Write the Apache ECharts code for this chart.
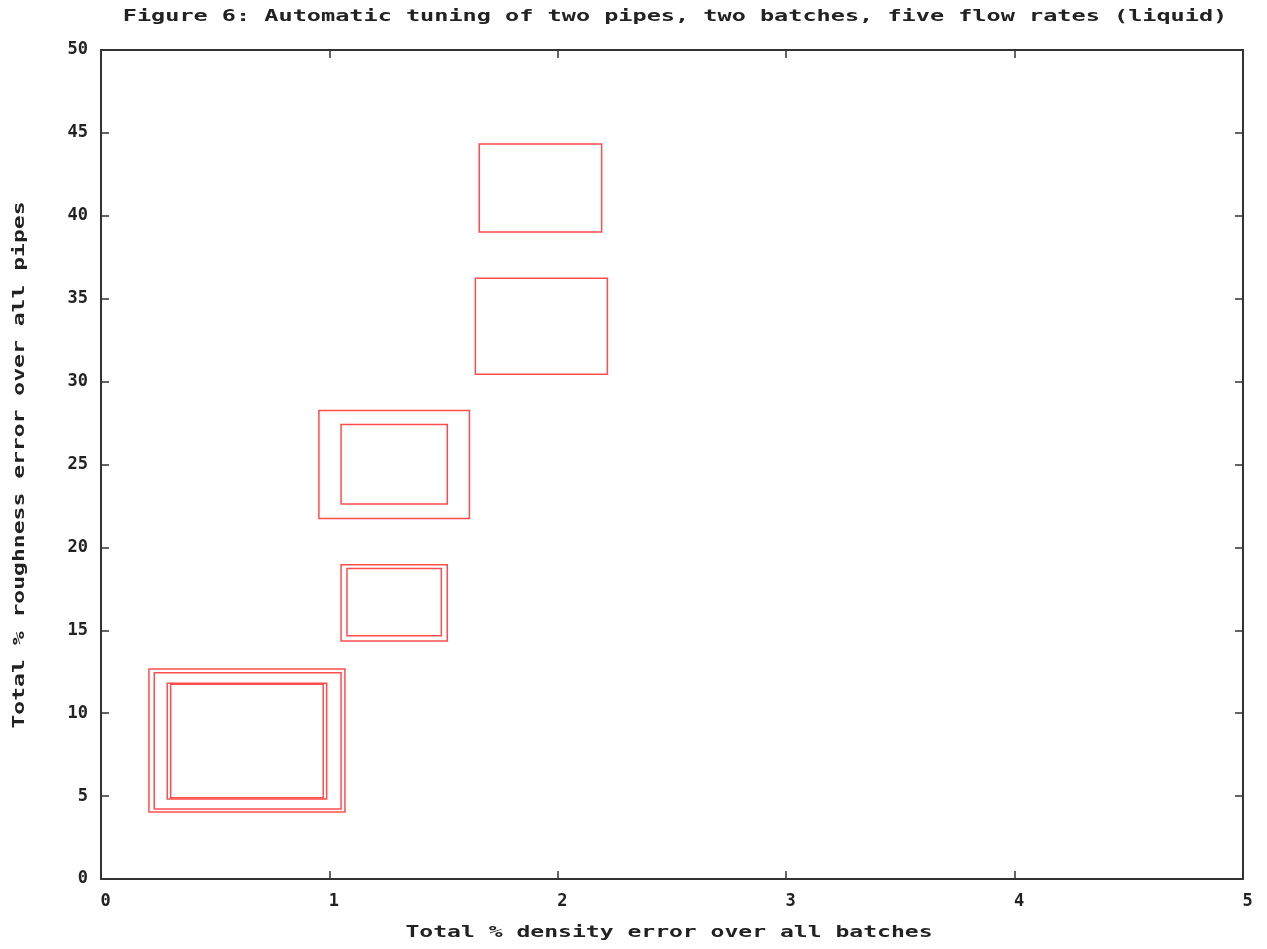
<!DOCTYPE html>
<html>
<head>
<meta charset="utf-8">
<script src="https://cdn.jsdelivr.net/npm/echarts@6/dist/echarts.min.js"></script>
<style>html,body{margin:0;padding:0;background:#fff}#c{width:1267px;height:949px}</style>
</head>
<body>
<div id="c"></div>
<script>
// Box extents: [x low, x high] and [y low, y high]
const xLow  = [0.210, 0.233, 0.290, 0.305, 0.954, 1.051, 1.051, 1.077, 1.656, 1.639];
const xHigh = [1.068, 1.051, 0.988, 0.973, 1.613, 1.516, 1.516, 1.490, 2.192, 2.217];
const yLow  = [4.04, 4.22, 4.83, 4.90, 21.75, 22.62, 14.35, 14.67, 39.02, 30.45];
const yHigh = [12.67, 12.44, 11.80, 11.74, 28.26, 27.42, 18.96, 18.73, 44.33, 36.23];
const xTicks = [0, 1, 2, 3, 4, 5];
const yTicks = [0, 5, 10, 15, 20, 25, 30, 35, 40, 45, 50];

const titleText = 'Figure 6: Automatic tuning of two pipes, two batches, five flow rates (liquid)';
const xName = 'Total % density error over all batches';
const yName = 'Total % roughness error over all pipes';

const FONT = 'DejaVu Sans Mono';
const AX = '#333';
const boxes = xLow.map((v, i) => [v, xHigh[i], yLow[i], yHigh[i]]);

const chart = echarts.init(document.getElementById('c'));
const axisCommon = {
  type: 'value',
  axisLine: { show: true, onZero: false, lineStyle: { color: AX, width: 2 } },
  axisTick: { show: true, inside: true, length: 8, lineStyle: { color: AX, width: 1.5 } },
  splitLine: { show: false }
};
const labelStyle = { fontFamily: FONT, fontSize: 17, fontWeight: 'bold', color: '#222' };
const textFont = 'bold 16px "DejaVu Sans Mono"';
chart.setOption({
  animation: false,
  backgroundColor: '#fff',
  grid: { left: 101, right: 24, top: 50, bottom: 70 },
  xAxis: [
    Object.assign({}, axisCommon, {
      position: 'bottom', min: xTicks[0], max: xTicks[xTicks.length - 1], interval: 1,
      axisLabel: Object.assign({ margin: 14, padding: [0, 0, 0, 9] }, labelStyle)
    }),
    Object.assign({}, axisCommon, {
      position: 'top', min: xTicks[0], max: xTicks[xTicks.length - 1], interval: 1,
      axisLabel: { show: false }
    })
  ],
  yAxis: [
    Object.assign({}, axisCommon, {
      position: 'left', min: yTicks[0], max: yTicks[yTicks.length - 1], interval: 5,
      axisLabel: Object.assign({ margin: 13 }, labelStyle)
    }),
    Object.assign({}, axisCommon, {
      position: 'right', min: yTicks[0], max: yTicks[yTicks.length - 1], interval: 5,
      axisLabel: { show: false }
    })
  ],
  graphic: [
    { type: 'text', x: 675, y: 17, scaleX: 1.47, style: { text: titleText, font: textFont, fill: '#222', textAlign: 'center', textVerticalAlign: 'middle' } },
    { type: 'text', x: 669, y: 933, scaleX: 1.44, style: { text: xName, font: textFont, fill: '#222', textAlign: 'center', textVerticalAlign: 'middle' } },
    { type: 'text', x: 20, y: 465, rotation: Math.PI / 2, scaleX: 1.44, style: { text: yName, font: textFont, fill: '#222', textAlign: 'center', textVerticalAlign: 'middle' } }
  ],
  series: [{
    type: 'custom',
    xAxisIndex: 0, yAxisIndex: 0,
    data: boxes,
    encode: { x: [0, 1], y: [2, 3] },
    renderItem: function (params, api) {
      const p1 = api.coord([api.value(0), api.value(3)]);
      const p2 = api.coord([api.value(1), api.value(2)]);
      return {
        type: 'rect',
        shape: { x: p1[0], y: p1[1], width: p2[0] - p1[0], height: p2[1] - p1[1] },
        style: { fill: null, stroke: '#ff4d4d', lineWidth: 1.5 }
      };
    }
  }]
});
</script>
</body>
</html>
